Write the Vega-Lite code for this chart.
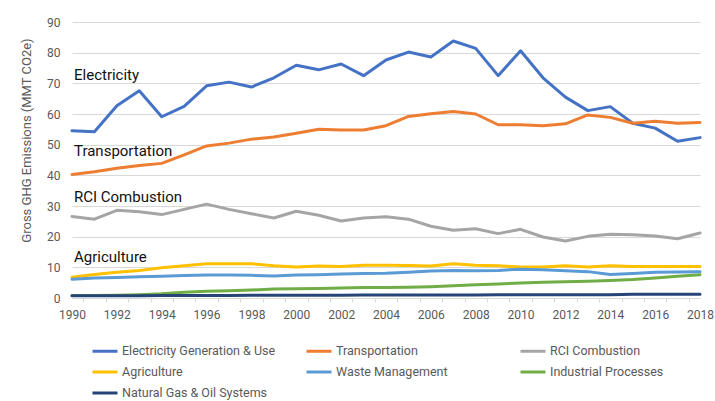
{
  "$schema": "https://vega.github.io/schema/vega-lite/v6.json",
  "autosize": {"type": "none"},
  "width": 628,
  "height": 276,
  "padding": {"left": 72, "top": 22, "right": 15, "bottom": 103},
  "background": "white",
  "config": {
    "view": {"stroke": null},
    "font": "Roboto"
  },
  "datasets": {
    "labels": [
      {"label": "Electricity", "year": 1990, "value": 72.7},
      {"label": "Transportation", "year": 1990, "value": 48.0},
      {"label": "RCI Combustion", "year": 1990, "value": 32.8},
      {"label": "Agriculture", "year": 1990, "value": 13.5}
    ],
    "emissions": [
      {"year":1990,"sector":"Electricity Generation & Use","value":54.5},
      {"year":1991,"sector":"Electricity Generation & Use","value":54.2},
      {"year":1992,"sector":"Electricity Generation & Use","value":62.7},
      {"year":1993,"sector":"Electricity Generation & Use","value":67.6},
      {"year":1994,"sector":"Electricity Generation & Use","value":59.1},
      {"year":1995,"sector":"Electricity Generation & Use","value":62.5},
      {"year":1996,"sector":"Electricity Generation & Use","value":69.2},
      {"year":1997,"sector":"Electricity Generation & Use","value":70.4},
      {"year":1998,"sector":"Electricity Generation & Use","value":68.8},
      {"year":1999,"sector":"Electricity Generation & Use","value":71.8},
      {"year":2000,"sector":"Electricity Generation & Use","value":75.9},
      {"year":2001,"sector":"Electricity Generation & Use","value":74.4},
      {"year":2002,"sector":"Electricity Generation & Use","value":76.3},
      {"year":2003,"sector":"Electricity Generation & Use","value":72.5},
      {"year":2004,"sector":"Electricity Generation & Use","value":77.6},
      {"year":2005,"sector":"Electricity Generation & Use","value":80.2},
      {"year":2006,"sector":"Electricity Generation & Use","value":78.6},
      {"year":2007,"sector":"Electricity Generation & Use","value":83.8},
      {"year":2008,"sector":"Electricity Generation & Use","value":81.4},
      {"year":2009,"sector":"Electricity Generation & Use","value":72.5},
      {"year":2010,"sector":"Electricity Generation & Use","value":80.6},
      {"year":2011,"sector":"Electricity Generation & Use","value":71.8},
      {"year":2012,"sector":"Electricity Generation & Use","value":65.5},
      {"year":2013,"sector":"Electricity Generation & Use","value":61.1},
      {"year":2014,"sector":"Electricity Generation & Use","value":62.4},
      {"year":2015,"sector":"Electricity Generation & Use","value":57.0},
      {"year":2016,"sector":"Electricity Generation & Use","value":55.4},
      {"year":2017,"sector":"Electricity Generation & Use","value":51.1},
      {"year":2018,"sector":"Electricity Generation & Use","value":52.3},
      {"year":1990,"sector":"Transportation","value":40.3},
      {"year":1991,"sector":"Transportation","value":41.2},
      {"year":1992,"sector":"Transportation","value":42.3},
      {"year":1993,"sector":"Transportation","value":43.2},
      {"year":1994,"sector":"Transportation","value":43.9},
      {"year":1995,"sector":"Transportation","value":46.7},
      {"year":1996,"sector":"Transportation","value":49.6},
      {"year":1997,"sector":"Transportation","value":50.5},
      {"year":1998,"sector":"Transportation","value":51.8},
      {"year":1999,"sector":"Transportation","value":52.5},
      {"year":2000,"sector":"Transportation","value":53.7},
      {"year":2001,"sector":"Transportation","value":55.0},
      {"year":2002,"sector":"Transportation","value":54.8},
      {"year":2003,"sector":"Transportation","value":54.8},
      {"year":2004,"sector":"Transportation","value":56.2},
      {"year":2005,"sector":"Transportation","value":59.2},
      {"year":2006,"sector":"Transportation","value":60.1},
      {"year":2007,"sector":"Transportation","value":60.8},
      {"year":2008,"sector":"Transportation","value":60.0},
      {"year":2009,"sector":"Transportation","value":56.5},
      {"year":2010,"sector":"Transportation","value":56.5},
      {"year":2011,"sector":"Transportation","value":56.2},
      {"year":2012,"sector":"Transportation","value":56.8},
      {"year":2013,"sector":"Transportation","value":59.7},
      {"year":2014,"sector":"Transportation","value":58.9},
      {"year":2015,"sector":"Transportation","value":57.0},
      {"year":2016,"sector":"Transportation","value":57.6},
      {"year":2017,"sector":"Transportation","value":57.0},
      {"year":2018,"sector":"Transportation","value":57.2},
      {"year":1990,"sector":"RCI Combustion","value":26.6},
      {"year":1991,"sector":"RCI Combustion","value":25.7},
      {"year":1992,"sector":"RCI Combustion","value":28.6},
      {"year":1993,"sector":"RCI Combustion","value":28.1},
      {"year":1994,"sector":"RCI Combustion","value":27.2},
      {"year":1995,"sector":"RCI Combustion","value":28.9},
      {"year":1996,"sector":"RCI Combustion","value":30.6},
      {"year":1997,"sector":"RCI Combustion","value":28.9},
      {"year":1998,"sector":"RCI Combustion","value":27.5},
      {"year":1999,"sector":"RCI Combustion","value":26.1},
      {"year":2000,"sector":"RCI Combustion","value":28.3},
      {"year":2001,"sector":"RCI Combustion","value":27.0},
      {"year":2002,"sector":"RCI Combustion","value":25.1},
      {"year":2003,"sector":"RCI Combustion","value":26.1},
      {"year":2004,"sector":"RCI Combustion","value":26.5},
      {"year":2005,"sector":"RCI Combustion","value":25.7},
      {"year":2006,"sector":"RCI Combustion","value":23.4},
      {"year":2007,"sector":"RCI Combustion","value":22.1},
      {"year":2008,"sector":"RCI Combustion","value":22.6},
      {"year":2009,"sector":"RCI Combustion","value":21.0},
      {"year":2010,"sector":"RCI Combustion","value":22.4},
      {"year":2011,"sector":"RCI Combustion","value":19.9},
      {"year":2012,"sector":"RCI Combustion","value":18.6},
      {"year":2013,"sector":"RCI Combustion","value":20.1},
      {"year":2014,"sector":"RCI Combustion","value":20.8},
      {"year":2015,"sector":"RCI Combustion","value":20.6},
      {"year":2016,"sector":"RCI Combustion","value":20.2},
      {"year":2017,"sector":"RCI Combustion","value":19.3},
      {"year":2018,"sector":"RCI Combustion","value":21.2},
      {"year":1990,"sector":"Agriculture","value":6.8},
      {"year":1991,"sector":"Agriculture","value":7.7},
      {"year":1992,"sector":"Agriculture","value":8.4},
      {"year":1993,"sector":"Agriculture","value":9.0},
      {"year":1994,"sector":"Agriculture","value":9.9},
      {"year":1995,"sector":"Agriculture","value":10.5},
      {"year":1996,"sector":"Agriculture","value":11.2},
      {"year":1997,"sector":"Agriculture","value":11.2},
      {"year":1998,"sector":"Agriculture","value":11.2},
      {"year":1999,"sector":"Agriculture","value":10.5},
      {"year":2000,"sector":"Agriculture","value":10.1},
      {"year":2001,"sector":"Agriculture","value":10.4},
      {"year":2002,"sector":"Agriculture","value":10.3},
      {"year":2003,"sector":"Agriculture","value":10.7},
      {"year":2004,"sector":"Agriculture","value":10.7},
      {"year":2005,"sector":"Agriculture","value":10.6},
      {"year":2006,"sector":"Agriculture","value":10.4},
      {"year":2007,"sector":"Agriculture","value":11.2},
      {"year":2008,"sector":"Agriculture","value":10.7},
      {"year":2009,"sector":"Agriculture","value":10.5},
      {"year":2010,"sector":"Agriculture","value":10.1},
      {"year":2011,"sector":"Agriculture","value":10.1},
      {"year":2012,"sector":"Agriculture","value":10.5},
      {"year":2013,"sector":"Agriculture","value":10.1},
      {"year":2014,"sector":"Agriculture","value":10.5},
      {"year":2015,"sector":"Agriculture","value":10.3},
      {"year":2016,"sector":"Agriculture","value":10.3},
      {"year":2017,"sector":"Agriculture","value":10.3},
      {"year":2018,"sector":"Agriculture","value":10.3},
      {"year":1990,"sector":"Waste Management","value":6.1},
      {"year":1991,"sector":"Waste Management","value":6.5},
      {"year":1992,"sector":"Waste Management","value":6.7},
      {"year":1993,"sector":"Waste Management","value":6.9},
      {"year":1994,"sector":"Waste Management","value":7.1},
      {"year":1995,"sector":"Waste Management","value":7.3},
      {"year":1996,"sector":"Waste Management","value":7.5},
      {"year":1997,"sector":"Waste Management","value":7.5},
      {"year":1998,"sector":"Waste Management","value":7.4},
      {"year":1999,"sector":"Waste Management","value":7.2},
      {"year":2000,"sector":"Waste Management","value":7.5},
      {"year":2001,"sector":"Waste Management","value":7.6},
      {"year":2002,"sector":"Waste Management","value":7.8},
      {"year":2003,"sector":"Waste Management","value":8.0},
      {"year":2004,"sector":"Waste Management","value":8.1},
      {"year":2005,"sector":"Waste Management","value":8.4},
      {"year":2006,"sector":"Waste Management","value":8.8},
      {"year":2007,"sector":"Waste Management","value":9.0},
      {"year":2008,"sector":"Waste Management","value":8.9},
      {"year":2009,"sector":"Waste Management","value":9.0},
      {"year":2010,"sector":"Waste Management","value":9.4},
      {"year":2011,"sector":"Waste Management","value":9.2},
      {"year":2012,"sector":"Waste Management","value":8.9},
      {"year":2013,"sector":"Waste Management","value":8.6},
      {"year":2014,"sector":"Waste Management","value":7.7},
      {"year":2015,"sector":"Waste Management","value":8.0},
      {"year":2016,"sector":"Waste Management","value":8.4},
      {"year":2017,"sector":"Waste Management","value":8.5},
      {"year":2018,"sector":"Waste Management","value":8.6},
      {"year":1990,"sector":"Industrial Processes","value":0.8},
      {"year":1991,"sector":"Industrial Processes","value":0.8},
      {"year":1992,"sector":"Industrial Processes","value":0.9},
      {"year":1993,"sector":"Industrial Processes","value":1.1},
      {"year":1994,"sector":"Industrial Processes","value":1.4},
      {"year":1995,"sector":"Industrial Processes","value":1.9},
      {"year":1996,"sector":"Industrial Processes","value":2.2},
      {"year":1997,"sector":"Industrial Processes","value":2.4},
      {"year":1998,"sector":"Industrial Processes","value":2.6},
      {"year":1999,"sector":"Industrial Processes","value":2.9},
      {"year":2000,"sector":"Industrial Processes","value":3.0},
      {"year":2001,"sector":"Industrial Processes","value":3.1},
      {"year":2002,"sector":"Industrial Processes","value":3.3},
      {"year":2003,"sector":"Industrial Processes","value":3.4},
      {"year":2004,"sector":"Industrial Processes","value":3.4},
      {"year":2005,"sector":"Industrial Processes","value":3.5},
      {"year":2006,"sector":"Industrial Processes","value":3.7},
      {"year":2007,"sector":"Industrial Processes","value":4.0},
      {"year":2008,"sector":"Industrial Processes","value":4.3},
      {"year":2009,"sector":"Industrial Processes","value":4.6},
      {"year":2010,"sector":"Industrial Processes","value":4.9},
      {"year":2011,"sector":"Industrial Processes","value":5.1},
      {"year":2012,"sector":"Industrial Processes","value":5.3},
      {"year":2013,"sector":"Industrial Processes","value":5.5},
      {"year":2014,"sector":"Industrial Processes","value":5.7},
      {"year":2015,"sector":"Industrial Processes","value":6.0},
      {"year":2016,"sector":"Industrial Processes","value":6.5},
      {"year":2017,"sector":"Industrial Processes","value":7.1},
      {"year":2018,"sector":"Industrial Processes","value":7.6},
      {"year":1990,"sector":"Natural Gas & Oil Systems","value":0.7},
      {"year":1991,"sector":"Natural Gas & Oil Systems","value":0.7},
      {"year":1992,"sector":"Natural Gas & Oil Systems","value":0.7},
      {"year":1993,"sector":"Natural Gas & Oil Systems","value":0.7},
      {"year":1994,"sector":"Natural Gas & Oil Systems","value":0.8},
      {"year":1995,"sector":"Natural Gas & Oil Systems","value":0.8},
      {"year":1996,"sector":"Natural Gas & Oil Systems","value":0.8},
      {"year":1997,"sector":"Natural Gas & Oil Systems","value":0.8},
      {"year":1998,"sector":"Natural Gas & Oil Systems","value":0.9},
      {"year":1999,"sector":"Natural Gas & Oil Systems","value":0.9},
      {"year":2000,"sector":"Natural Gas & Oil Systems","value":0.9},
      {"year":2001,"sector":"Natural Gas & Oil Systems","value":0.9},
      {"year":2002,"sector":"Natural Gas & Oil Systems","value":0.9},
      {"year":2003,"sector":"Natural Gas & Oil Systems","value":1.0},
      {"year":2004,"sector":"Natural Gas & Oil Systems","value":1.0},
      {"year":2005,"sector":"Natural Gas & Oil Systems","value":1.0},
      {"year":2006,"sector":"Natural Gas & Oil Systems","value":1.0},
      {"year":2007,"sector":"Natural Gas & Oil Systems","value":1.0},
      {"year":2008,"sector":"Natural Gas & Oil Systems","value":1.0},
      {"year":2009,"sector":"Natural Gas & Oil Systems","value":1.1},
      {"year":2010,"sector":"Natural Gas & Oil Systems","value":1.1},
      {"year":2011,"sector":"Natural Gas & Oil Systems","value":1.1},
      {"year":2012,"sector":"Natural Gas & Oil Systems","value":1.1},
      {"year":2013,"sector":"Natural Gas & Oil Systems","value":1.1},
      {"year":2014,"sector":"Natural Gas & Oil Systems","value":1.1},
      {"year":2015,"sector":"Natural Gas & Oil Systems","value":1.2},
      {"year":2016,"sector":"Natural Gas & Oil Systems","value":1.2},
      {"year":2017,"sector":"Natural Gas & Oil Systems","value":1.2},
      {"year":2018,"sector":"Natural Gas & Oil Systems","value":1.2}
    ]
  },
  "layer": [
    {
      "data": {"name": "emissions"},
      "mark": {"type": "line", "strokeWidth": 3, "strokeJoin": "round", "strokeCap": "round"},
      "encoding": {
        "x": {
          "field": "year", "type": "quantitative",
          "scale": {"domain": [1990, 2018], "nice": false, "zero": false},
          "axis": {
            "orient": "bottom",
            "title": null,
            "values": [1990,1992,1994,1996,1998,2000,2002,2004,2006,2008,2010,2012,2014,2016,2018],
            "format": "d",
            "grid": false,
            "ticks": false,
            "domain": true,
            "domainColor": "#D9D9D9",
            "domainWidth": 1,
            "labelFont": "Roboto",
            "labelFontSize": 12,
            "labelColor": "#595959",
            "labelPadding": 11,
            "labelFlush": false,
            "labelOverlap": false
          }
        },
        "y": {
          "field": "value", "type": "quantitative",
          "scale": {"domain": [0, 90], "nice": false},
          "axis": {
            "title": "Gross GHG Emissions (MMT CO2e)",
            "values": [0,10,20,30,40,50,60,70,80,90],
            "grid": true,
            "gridColor": "#D9D9D9",
            "gridWidth": 1,
            "ticks": false,
            "domain": false,
            "labelOverlap": false,
            "labelFont": "Roboto",
            "labelFontSize": 12,
            "labelColor": "#595959",
            "labelPadding": 12,
            "titleFont": "Roboto",
            "titleFontSize": 13,
            "titleFontWeight": "normal",
            "titleColor": "#595959",
            "titleX": -39,
            "titleY": 118
          }
        },
        "color": {
          "field": "sector", "type": "nominal",
          "scale": {
            "domain": ["Electricity Generation & Use","Transportation","RCI Combustion","Agriculture","Waste Management","Industrial Processes","Natural Gas & Oil Systems"],
            "range": ["#4472C4","#ED7D31","#A5A5A5","#FFC000","#5B9BD5","#70AD47","#264478"]
          },
          "legend": {
            "title": null,
            "orient": "none",
            "legendX": 19,
            "legendY": 315,
            "direction": "horizontal",
            "columns": 3,
            "gridAlign": "all",
            "columnPadding": 24,
            "rowPadding": 0,
            "symbolType": "stroke",
            "symbolSize": 625,
            "symbolStrokeWidth": 3,
            "labelFont": "Roboto",
            "labelFontSize": 12.5,
            "labelColor": "#595959",
            "labelOffset": 3,
            "labelLimit": 300
          }
        }
      }
    },
    {
      "data": {"name": "labels"},
      "mark": {"type": "text", "align": "left", "baseline": "middle", "dx": 2, "font": "Roboto", "fontSize": 15, "color": "#111111"},
      "encoding": {
        "x": {
          "field": "year", "type": "quantitative",
          "axis": {
            "orient": "bottom",
            "title": null,
            "values": [1990.5,1991.5,1992.5,1993.5,1994.5,1995.5,1996.5,1997.5,1998.5,1999.5,2000.5,2001.5,2002.5,2003.5,2004.5,2005.5,2006.5,2007.5,2008.5,2009.5,2010.5,2011.5,2012.5,2013.5,2014.5,2015.5,2016.5,2017.5],
            "labels": false,
            "grid": false,
            "domain": false,
            "ticks": true,
            "tickSize": 4,
            "tickColor": "#D9D9D9",
            "tickWidth": 1
          }
        },
        "y": {
          "field": "value", "type": "quantitative",
          "axis": {
            "title": "Gross GHG Emissions (MMT CO2e)",
            "values": [0,10,20,30,40,50,60,70,80,90],
            "grid": true,
            "gridColor": "#D9D9D9",
            "gridWidth": 1,
            "ticks": false,
            "domain": false,
            "labelOverlap": false,
            "labelFont": "Roboto",
            "labelFontSize": 12,
            "labelColor": "#595959",
            "labelPadding": 12,
            "titleFont": "Roboto",
            "titleFontSize": 13,
            "titleFontWeight": "normal",
            "titleColor": "#595959",
            "titleX": -39,
            "titleY": 118
          }
        },
        "text": {"field": "label"}
      }
    }
  ],
  "resolve": {"axis": {"x": "independent"}}
}
